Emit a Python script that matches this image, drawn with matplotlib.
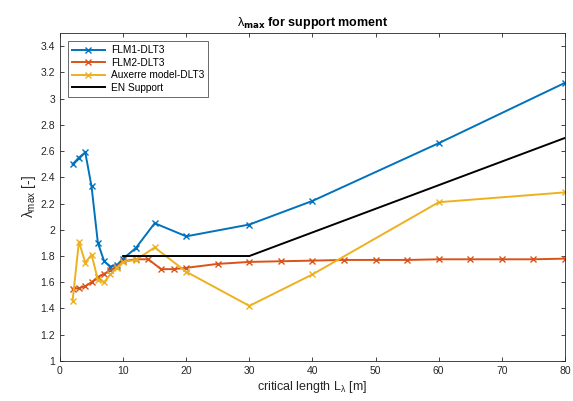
import matplotlib
matplotlib.use("Agg")
import matplotlib.pyplot as plt

plt.rcParams['font.family'] = ['Liberation Sans', 'DejaVu Sans']
plt.rcParams['mathtext.fontset'] = 'custom'
plt.rcParams['mathtext.rm'] = 'Liberation Sans'
plt.rcParams['mathtext.it'] = 'Liberation Sans'

# Data
flm1_x = [2, 3, 4, 5, 6, 7, 8, 9, 10, 12, 15, 20, 30, 40, 60, 80]
flm1_y = [2.50, 2.55, 2.59, 2.33, 1.90, 1.76, 1.72, 1.73, 1.78, 1.86, 2.05, 1.95, 2.04, 2.22, 2.66, 3.12]

flm2_x = [2, 3, 4, 5, 6, 7, 8, 9, 10, 12, 14, 16, 18, 20, 25, 30, 35, 40, 45, 50, 55, 60, 65, 70, 75, 80]
flm2_y = [1.55, 1.555, 1.57, 1.60, 1.64, 1.665, 1.69, 1.72, 1.76, 1.775, 1.775, 1.70, 1.70, 1.71,
          1.74, 1.755, 1.76, 1.765, 1.77, 1.77, 1.77, 1.775, 1.775, 1.775, 1.775, 1.78]

aux_x = [2, 3, 4, 5, 6, 7, 8, 9, 10, 12, 15, 20, 30, 40, 60, 80]
aux_y = [1.46, 1.91, 1.75, 1.81, 1.62, 1.60, 1.66, 1.71, 1.755, 1.77, 1.865, 1.68, 1.42, 1.66, 2.21, 2.285]

en_x = [10, 30, 80]
en_y = [1.80, 1.80, 2.70]

labels = ['FLM1-DLT3', 'FLM2-DLT3', 'Auxerre model-DLT3', 'EN Support']
colors = ['#0072BD', '#D95319', '#EDB120', '#000000']

xticks = [0, 10, 20, 30, 40, 50, 60, 70, 80]
yticks = [1, 1.2, 1.4, 1.6, 1.8, 2, 2.2, 2.4, 2.6, 2.8, 3, 3.2, 3.4]

fig = plt.figure(figsize=(5.73, 4.01), dpi=100)
ax = fig.add_axes([0.1047, 0.0998, 0.8813, 0.8180])

ax.plot(flm1_x, flm1_y, color=colors[0], marker='x', ms=4, mew=1, lw=1.4, label=labels[0])
ax.plot(flm2_x, flm2_y, color=colors[1], marker='x', ms=4, mew=1, lw=1.4, label=labels[1])
ax.plot(aux_x, aux_y, color=colors[2], marker='x', ms=4, mew=1, lw=1.4, label=labels[2])
ax.plot(en_x, en_y, color=colors[3], lw=1.4, label=labels[3])

ax.set_xlim(0, 80)
ax.set_ylim(1, 3.5)
ax.set_xticks(xticks)
ax.set_xticklabels([str(t) for t in xticks])
ax.set_yticks(yticks)
ax.set_yticklabels([('%g' % t) for t in yticks])

ax.tick_params(direction='in', top=True, right=True, labelsize=7.5, length=3,
               colors='#262626', width=0.6)
for s in ax.spines.values():
    s.set_color('#262626')
    s.set_linewidth(0.6)

ax.set_xlabel(r'critical length L$_\lambda$ [m]', fontsize=9, color='#262626', labelpad=2)
ax.set_ylabel(r'$\lambda_{\rm max}$ [-]', fontsize=10, color='#262626', labelpad=2)
ax.set_title(r'$\lambda_{\mathbf{max}}$ for support moment', fontsize=9, fontweight='bold', pad=5)

leg = ax.legend(loc='upper left', fontsize=7.3, frameon=True, fancybox=False,
                edgecolor='#262626', handlelength=3.2, borderpad=0.4, labelspacing=0.25,
                handletextpad=0.6, borderaxespad=0.8)
leg.get_frame().set_linewidth(0.6)

fig.savefig('out.png', dpi=100)
